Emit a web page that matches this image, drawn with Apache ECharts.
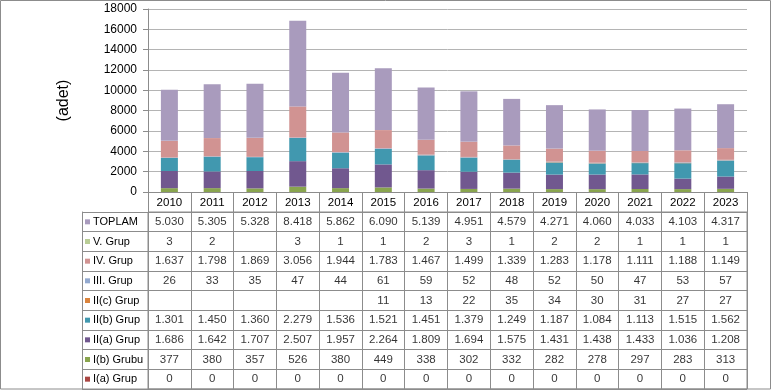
<!DOCTYPE html>
<html><head><meta charset="utf-8">
<script src="https://cdn.jsdelivr.net/npm/echarts@6/dist/echarts.min.js"></script>
<style>html,body{margin:0;padding:0;background:#fff}#c{width:775px;height:390px}</style>
</head><body><div id="c"></div>
<script>
var years = ['2010','2011','2012','2013','2014','2015','2016','2017','2018','2019','2020','2021','2022','2023'];
var toplam = [5030,5305,5328,8418,5862,6090,5139,4951,4579,4271,4060,4033,4103,4317];
var grupV  = [3,2,null,3,1,1,2,3,1,2,2,1,1,1];
var grupIV = [1637,1798,1869,3056,1944,1783,1467,1499,1339,1283,1178,1111,1188,1149];
var grupIII= [26,33,35,47,44,61,59,52,48,52,50,47,53,57];
var grupIIc= [null,null,null,null,null,11,13,22,35,34,30,31,27,27];
var grupIIb= [1301,1450,1360,2279,1536,1521,1451,1379,1249,1187,1084,1113,1515,1562];
var grupIIa= [1686,1642,1707,2507,1957,2264,1809,1694,1575,1431,1438,1433,1036,1208];
var grupIb = [377,380,357,526,380,449,338,302,332,282,278,297,283,313];
var grupIa = [0,0,0,0,0,0,0,0,0,0,0,0,0,0];
var yTicks = [0,2000,4000,6000,8000,10000,12000,14000,16000,18000];

// bottom-to-top stacking order
var seriesDefs = [
  {name:'I(a) Grup',  data:grupIa,  color:'#AA4643'},
  {name:'I(b) Grubu', data:grupIb,  color:'#89A54E'},
  {name:'II(a) Grup', data:grupIIa, color:'#71588F'},
  {name:'II(b) Grup', data:grupIIb, color:'#4198AF'},
  {name:'II(c) Grup', data:grupIIc, color:'#DB843D'},
  {name:'III. Grup',  data:grupIII, color:'#93A9CF'},
  {name:'IV. Grup',   data:grupIV,  color:'#D19392'},
  {name:'V. Grup',    data:grupV,   color:'#B9CD96'},
  {name:'TOPLAM',     data:toplam,  color:'#A99BBD'}
];
var rows = seriesDefs.slice().reverse(); // table rows top to bottom

function fmt(n){ return String(n).replace(/\B(?=(\d{3})+(?!\d))/g,'.'); }

var FONT = 'Liberation Sans';
var lineC = '#8C8C8C';
var series = seriesDefs.map(function(s){
  return {type:'bar', name:s.name, stack:'all', data:s.data, barWidth:17,
    xAxisIndex:0, yAxisIndex:0, itemStyle:{color:s.color}, emphasis:{disabled:true}, silent:true};
});
var cells = [];
rows.forEach(function(r, ri){
  r.data.forEach(function(v, xi){ if (v !== null && v !== undefined) cells.push([xi, ri, v]); });
});
series.push({type:'scatter', xAxisIndex:1, yAxisIndex:1, symbolSize:0, silent:true, data:cells,
  label:{show:true, position:'inside', fontFamily:FONT, fontSize:11.5, color:'#000',
    formatter:function(p){ return fmt(p.value[2]); }}});

var rich = {t:{fontFamily:FONT, fontSize:11, color:'#000', padding:[0,0,0,3]}};
rows.forEach(function(r,i){ rich['s'+i] = {width:5, height:5, backgroundColor:r.color}; });

var chart = echarts.init(document.getElementById('c'), null, {renderer:'canvas'});
chart.setOption({
  animation:false,
  backgroundColor:'#fff',
  grid:[
    {left:148, right:28, top:9, bottom:198},
    {left:148, right:28, top:212, bottom:1, show:true, borderColor:lineC, borderWidth:1, backgroundColor:'transparent'}
  ],
  xAxis:[
    {type:'category', gridIndex:0, data:years,
      axisLine:{lineStyle:{color:lineC}},
      axisTick:{show:true, interval:0, length:20, lineStyle:{color:lineC}},
      axisLabel:{interval:0, margin:5, fontFamily:FONT, fontSize:11.5, color:'#000'}},
    {type:'category', gridIndex:1, data:years, position:'top',
      axisLine:{show:false}, axisTick:{show:false}, axisLabel:{show:false},
      splitLine:{show:true, interval:0, lineStyle:{color:lineC}}}
  ],
  yAxis:[
    {type:'value', gridIndex:0, min:yTicks[0], max:yTicks[yTicks.length-1], interval:yTicks[1]-yTicks[0],
      name:'(adet)', nameLocation:'middle', nameGap:76,
      nameTextStyle:{fontFamily:FONT, fontSize:16, color:'#000'},
      axisLine:{show:true, lineStyle:{color:lineC}},
      axisTick:{show:true, length:5, lineStyle:{color:lineC}},
      axisLabel:{margin:11, fontFamily:FONT, fontSize:12, color:'#000',
        formatter:function(v){ return String(v); }},
      splitLine:{lineStyle:{color:'#B4B4B4'}}},
    {type:'category', gridIndex:1, inverse:true, data:rows.map(function(r){return r.name;}),
      axisLine:{show:true, lineStyle:{color:lineC}},
      axisTick:{show:true, interval:0, length:66, lineStyle:{color:lineC}},
      splitLine:{show:true, interval:0, lineStyle:{color:lineC}},
      axisLabel:{interval:0, align:'left', margin:63,
        formatter:function(v, i){ return '{s'+i+'|}{t|'+v+'}'; }, rich:rich}},
    {type:'value', gridIndex:1, position:'left', offset:66,
      axisLine:{show:true, lineStyle:{color:lineC}}, axisTick:{show:false},
      axisLabel:{show:false}, splitLine:{show:false}}
  ],
  graphic:[{type:'rect', shape:{x:0.5, y:0.5, width:770, height:388.5}, silent:true,
    style:{fill:'none', stroke:lineC, lineWidth:1}}],
  series:series
});
</script></body></html>
